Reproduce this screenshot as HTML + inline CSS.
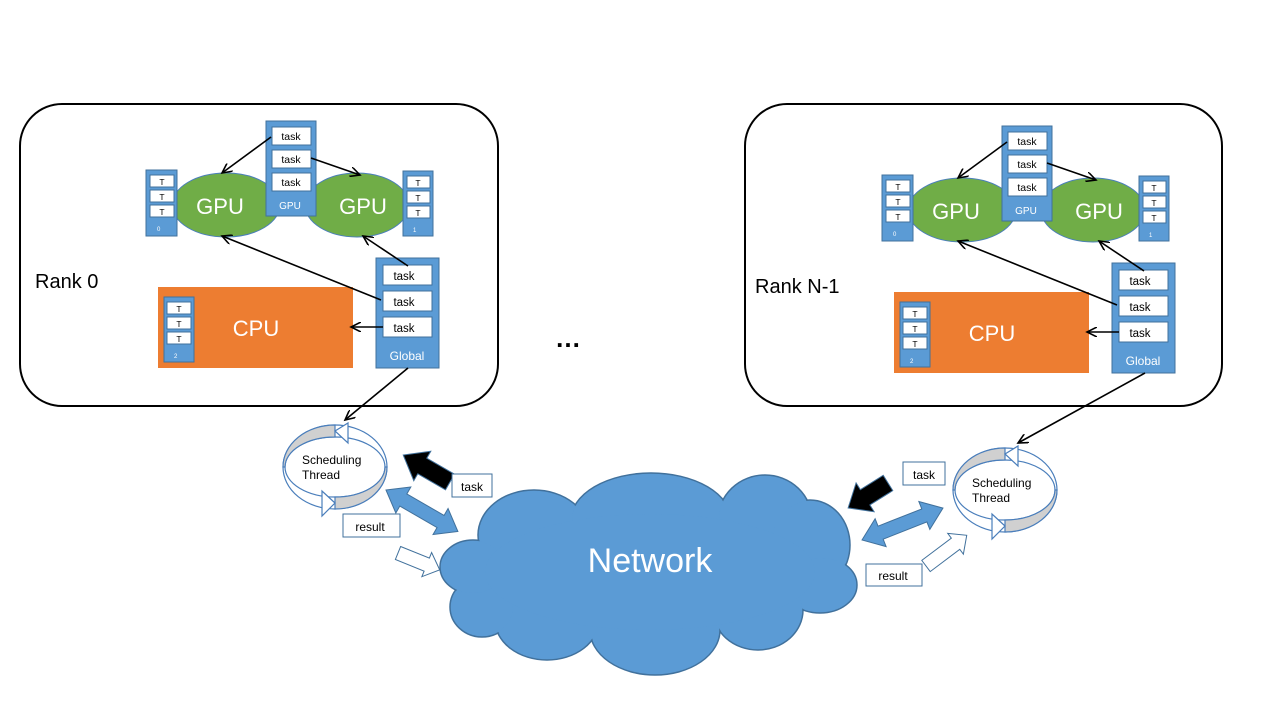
<!DOCTYPE html>
<html><head><meta charset="utf-8"><style>
html,body{margin:0;padding:0;background:#fff;}
svg{display:block;font-family:"Liberation Sans",Arial,sans-serif;}
</style></head><body>
<svg width="1280" height="720" viewBox="0 0 1280 720" xmlns="http://www.w3.org/2000/svg">
<defs>
<marker id="ah" markerWidth="12" markerHeight="10" refX="10" refY="5" orient="auto" markerUnits="userSpaceOnUse">
<path d="M0,0 L10,5 L0,10" fill="none" stroke="#000" stroke-width="1.6"/>
</marker>
<g id="rank">
  <ellipse cx="226" cy="205" rx="54" ry="32" fill="#70ad47" stroke="#4a7ebb" stroke-width="1"/>
  <ellipse cx="357" cy="205" rx="52" ry="32" fill="#70ad47" stroke="#4a7ebb" stroke-width="1"/>
  <text x="220" y="214" font-size="22" fill="#fff" text-anchor="middle">GPU</text>
  <text x="363" y="214" font-size="22" fill="#fff" text-anchor="middle">GPU</text>
  <rect x="266" y="121" width="50" height="95" fill="#5b9bd5" stroke="#41719c"/>
  <rect x="272" y="127" width="39" height="18" fill="#fff" stroke="#41719c"/>
  <rect x="272" y="150" width="39" height="18" fill="#fff" stroke="#41719c"/>
  <rect x="272" y="173" width="39" height="18" fill="#fff" stroke="#41719c"/>
  <text x="291" y="140" font-size="10.5" text-anchor="middle">task</text>
  <text x="291" y="163" font-size="10.5" text-anchor="middle">task</text>
  <text x="291" y="186" font-size="10.5" text-anchor="middle">task</text>
  <text x="290" y="209" font-size="10" fill="#fff" text-anchor="middle">GPU</text>
  <rect x="146" y="170" width="31" height="66" fill="#5b9bd5" stroke="#41719c"/>
  <rect x="150" y="175" width="24" height="12" fill="#fff" stroke="#41719c"/>
  <rect x="150" y="190" width="24" height="12" fill="#fff" stroke="#41719c"/>
  <rect x="150" y="205" width="24" height="12" fill="#fff" stroke="#41719c"/>
  <text x="162" y="185" font-size="8.5" text-anchor="middle">T</text>
  <text x="162" y="200" font-size="8.5" text-anchor="middle">T</text>
  <text x="162" y="215" font-size="8.5" text-anchor="middle">T</text>
  <text x="157" y="231" font-size="6" fill="#fff">0</text>
  <rect x="403" y="171" width="30" height="65" fill="#5b9bd5" stroke="#41719c"/>
  <rect x="407" y="176" width="23" height="12" fill="#fff" stroke="#41719c"/>
  <rect x="407" y="191" width="23" height="12" fill="#fff" stroke="#41719c"/>
  <rect x="407" y="206" width="23" height="12" fill="#fff" stroke="#41719c"/>
  <text x="418" y="186" font-size="8.5" text-anchor="middle">T</text>
  <text x="418" y="201" font-size="8.5" text-anchor="middle">T</text>
  <text x="418" y="216" font-size="8.5" text-anchor="middle">T</text>
  <text x="413" y="232" font-size="6" fill="#fff">1</text>
  <rect x="158" y="287" width="195" height="81" fill="#ed7d31"/>
  <text x="256" y="336" font-size="22" fill="#fff" text-anchor="middle">CPU</text>
  <rect x="164" y="297" width="30" height="65" fill="#5b9bd5" stroke="#41719c"/>
  <rect x="167" y="302" width="24" height="12" fill="#fff" stroke="#41719c"/>
  <rect x="167" y="317" width="24" height="12" fill="#fff" stroke="#41719c"/>
  <rect x="167" y="332" width="24" height="12" fill="#fff" stroke="#41719c"/>
  <text x="179" y="312" font-size="8.5" text-anchor="middle">T</text>
  <text x="179" y="327" font-size="8.5" text-anchor="middle">T</text>
  <text x="179" y="342" font-size="8.5" text-anchor="middle">T</text>
  <text x="174" y="358" font-size="6" fill="#fff">2</text>
  <rect x="376" y="258" width="63" height="110" fill="#5b9bd5" stroke="#41719c"/>
  <rect x="383" y="265" width="49" height="20" fill="#fff" stroke="#41719c"/>
  <rect x="383" y="291" width="49" height="20" fill="#fff" stroke="#41719c"/>
  <rect x="383" y="317" width="49" height="20" fill="#fff" stroke="#41719c"/>
  <text x="404" y="280" font-size="11.5" text-anchor="middle">task</text>
  <text x="404" y="306" font-size="11.5" text-anchor="middle">task</text>
  <text x="404" y="332" font-size="11.5" text-anchor="middle">task</text>
  <text x="407" y="360" font-size="12" fill="#fff" text-anchor="middle">Global</text>
  <g stroke="#000" stroke-width="1.6" marker-end="url(#ah)">
    <line x1="271" y1="137" x2="222" y2="173"/>
    <line x1="311" y1="158" x2="360" y2="175"/>
    <line x1="381" y1="300" x2="222" y2="236"/>
    <line x1="408" y1="266" x2="363" y2="236"/>
    <line x1="383" y1="327" x2="351" y2="327"/>
  </g>
</g>
<g id="sched">
  <ellipse cx="0" cy="0" rx="52" ry="42" fill="#fff" stroke="#4a7ebb" stroke-width="1.2"/>
  <ellipse cx="0" cy="0" rx="50" ry="30" fill="#fff" stroke="#4a7ebb" stroke-width="1.2"/>
  <path d="M-52,0 A52,42 0 0 1 0,-42 L0,-30 A50,30 0 0 0 -50,0 Z" fill="#d0d0d0" stroke="#4a7ebb" stroke-width="1.2"/>
  <path d="M52,0 A52,42 0 0 1 0,42 L0,30 A50,30 0 0 0 50,0 Z" fill="#d0d0d0" stroke="#4a7ebb" stroke-width="1.2"/>
  <polygon points="0,-36 13,-44 13,-24" fill="#fff" stroke="#4a7ebb" stroke-width="1.2"/>
  <polygon points="0,36 -13,24 -13,49" fill="#fff" stroke="#4a7ebb" stroke-width="1.2"/>
  <text x="-33" y="-3" font-size="12">Scheduling</text>
  <text x="-33" y="12" font-size="12">Thread</text>
</g>
</defs>

<rect x="20" y="104" width="478" height="302" rx="42" fill="#fff" stroke="#000" stroke-width="2"/>
<rect x="745" y="104" width="477" height="302" rx="42" fill="#fff" stroke="#000" stroke-width="2"/>
<use href="#rank"/>
<use href="#rank" transform="translate(736,5)"/>
<text x="35" y="288" font-size="20">Rank 0</text>
<text x="755" y="293" font-size="20">Rank N-1</text>
<text x="555" y="347" font-size="26" font-weight="bold">…</text>

<!-- cloud -->
<g fill="#5b9bd5" stroke="#41719c" stroke-width="1.5">
  <ellipse cx="534" cy="535" rx="56" ry="45"/>
  <ellipse cx="651" cy="520" rx="80" ry="47"/>
  <ellipse cx="765" cy="520" rx="47" ry="45"/>
  <ellipse cx="810" cy="545" rx="40" ry="45"/>
  <ellipse cx="820" cy="585" rx="37" ry="28"/>
  <ellipse cx="758" cy="610" rx="45" ry="40"/>
  <ellipse cx="655" cy="630" rx="65" ry="45"/>
  <ellipse cx="547" cy="620" rx="52" ry="40"/>
  <ellipse cx="482" cy="607" rx="32" ry="30"/>
  <ellipse cx="473" cy="567" rx="33" ry="27"/>
</g>
<g fill="#5b9bd5">
  <ellipse cx="534" cy="535" rx="55" ry="44"/>
  <ellipse cx="651" cy="520" rx="79" ry="46"/>
  <ellipse cx="765" cy="520" rx="46" ry="44"/>
  <ellipse cx="810" cy="545" rx="39" ry="44"/>
  <ellipse cx="820" cy="585" rx="36" ry="27"/>
  <ellipse cx="758" cy="610" rx="44" ry="39"/>
  <ellipse cx="655" cy="630" rx="64" ry="44"/>
  <ellipse cx="547" cy="620" rx="51" ry="39"/>
  <ellipse cx="482" cy="607" rx="31" ry="29"/>
  <ellipse cx="473" cy="567" rx="32" ry="26"/>
  <ellipse cx="650" cy="572" rx="165" ry="58"/>
</g>
<text x="650" y="572" font-size="34" fill="#fff" text-anchor="middle">Network</text>

<line x1="408" y1="368" x2="345" y2="420" stroke="#000" stroke-width="1.6" marker-end="url(#ah)"/>
<line x1="1145" y1="373" x2="1018" y2="443" stroke="#000" stroke-width="1.6" marker-end="url(#ah)"/>

<use href="#sched" transform="translate(335,467)"/>
<use href="#sched" transform="translate(1005,490)"/>

<polygon transform="translate(450,482) rotate(210)" points="0,-9 32,-9 32,-17 54,0 32,17 32,9 0,9" fill="#000" stroke="#41719c"/>
<polygon transform="translate(386,490) rotate(30)" points="0,0 20,-15 20,-7 63,-7 63,-15 83,0 63,15 63,7 20,7 20,15" fill="#5b9bd5" stroke="#41719c"/>
<polygon transform="translate(398,553) rotate(22)" points="0,-7 31,-7 31,-13 45,0 31,13 31,7 0,7" fill="#fff" stroke="#41719c"/>
<polygon transform="translate(888,483) rotate(148)" points="0,-9 27,-9 27,-17 47,0 27,17 27,9 0,9" fill="#000" stroke="#41719c"/>
<polygon transform="translate(862,540) rotate(-21.5)" points="0,0 20,-15 20,-7 67,-7 67,-15 87,0 67,15 67,7 20,7 20,15" fill="#5b9bd5" stroke="#41719c"/>
<polygon transform="translate(926,566) rotate(-37)" points="0,-7 37,-7 37,-13 51,0 37,13 37,7 0,7" fill="#fff" stroke="#41719c"/>

<rect x="452" y="474" width="40" height="23" fill="#fff" stroke="#41719c"/>
<text x="472" y="491" font-size="12" text-anchor="middle">task</text>
<rect x="343" y="514" width="57" height="23" fill="#fff" stroke="#41719c"/>
<text x="370" y="531" font-size="12" text-anchor="middle">result</text>
<rect x="903" y="462" width="42" height="23" fill="#fff" stroke="#41719c"/>
<text x="924" y="479" font-size="12" text-anchor="middle">task</text>
<rect x="866" y="564" width="56" height="22" fill="#fff" stroke="#41719c"/>
<text x="893" y="580" font-size="12" text-anchor="middle">result</text>
</svg>
</body></html>
